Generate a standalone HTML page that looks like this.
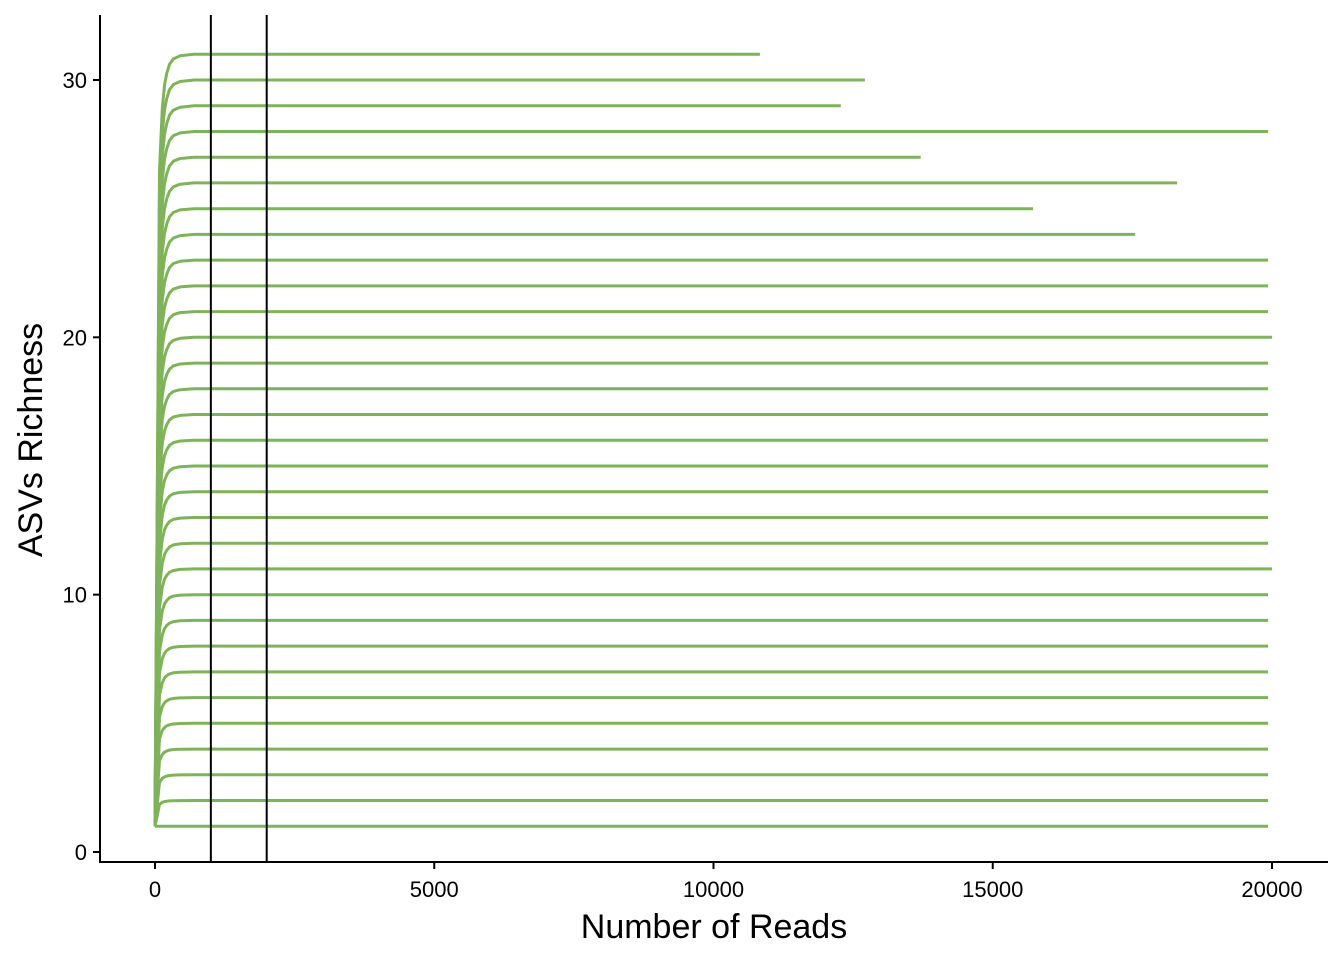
<!DOCTYPE html>
<html><head><meta charset="utf-8"><style>
body{margin:0;background:#fff}
svg text{font-family:"Liberation Sans",Arial,sans-serif}
</style></head><body>
<svg id="chart" width="1344" height="960" xmlns="http://www.w3.org/2000/svg">
<g id="curves"></g>
<g id="vlines"></g>
<g id="axes"></g>
</svg>
<script>
const richness = [31,30,29,28,27,26,25,24,23,22,21,20,19,18,17,16,15,14,13,12,11,10,9,8,7,6,5,4,3,2,1];
const maxReads = [10830,12710,12280,19930,13710,18300,15720,17550,19930,19930,19930,20000,19930,19930,19930,19930,19930,19930,19930,19930,20000,19930,19930,19930,19930,19930,19930,19930,19930,19930,19930];
const curveDepth = [0,80,130,170,210,260,330,450,700];
const curveFrac = [0,0.85,0.93,0.96,0.975,0.987,0.994,0.998,1];
const thresholds = [1000,2000];
const xTicks = [0,5000,10000,15000,20000];
const yTicks = [0,10,20,30];
const NS='http://www.w3.org/2000/svg';
const X = v => 155 + v*(1272-155)/20000;
const Y = v => 852 - v*(852-80)/30;
function mk(tag, attrs, parent){const e=document.createElementNS(NS,tag);for(const k in attrs)e.setAttribute(k,attrs[k]);parent.appendChild(e);return e;}
const cg=document.getElementById('curves');
richness.forEach((s,i)=>{
  const pts=[];
  curveDepth.forEach((d,j)=>{ if(d<maxReads[i]) pts.push([X(d),Y(1+(s-1)*curveFrac[j])]); });
  pts.push([X(maxReads[i]),Y(s)]);
  const p=mk('path',{d:'M'+pts.map(p=>p[0].toFixed(1)+','+p[1].toFixed(1)).join('L'),fill:'none',stroke:'#7fb35a','stroke-width':3,'stroke-linejoin':'round'},cg);
  
  
});
const vg=document.getElementById('vlines');
thresholds.forEach(t=>{
  const l=mk('line',{x1:X(t),x2:X(t),y1:15,y2:862,stroke:'#000','stroke-width':2},vg);
  
  
});
const ag=document.getElementById('axes');
const ya=mk('line',{x1:100,x2:100,y1:15,y2:863,stroke:'#000','stroke-width':2},ag);

const xa=mk('line',{x1:99,x2:1328,y1:862,y2:862,stroke:'#000','stroke-width':2},ag);

xTicks.forEach(t=>{
  mk('line',{x1:X(t),x2:X(t),y1:862,y2:869,stroke:'#000','stroke-width':2},ag);
  const tx=mk('text',{x:X(t),y:897,'text-anchor':'middle','font-size':22,fill:'#000'},ag);
  tx.textContent=t;
  
  
});
yTicks.forEach(t=>{
  mk('line',{x1:93,x2:100,y1:Y(t),y2:Y(t),stroke:'#000','stroke-width':2},ag);
  const tx=mk('text',{x:87,y:Y(t)+8,'text-anchor':'end','font-size':22,fill:'#000'},ag);
  tx.textContent=t;
  
  
});
const xt=mk('text',{x:714,y:938,'text-anchor':'middle','font-size':34,fill:'#000'},ag);
xt.textContent='Number of Reads';

const yt=mk('text',{x:0,y:0,'text-anchor':'middle','font-size':34,fill:'#000',transform:'translate(42,440) rotate(-90)'},ag);
yt.textContent='ASVs Richness';

</script>
</body></html>
